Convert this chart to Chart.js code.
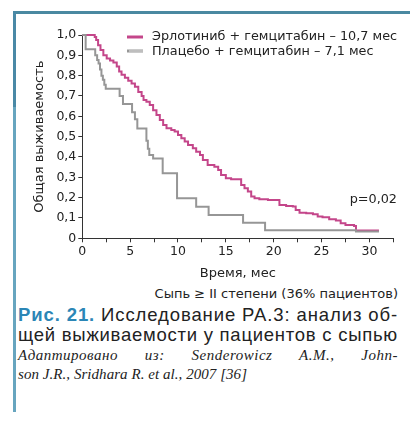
<!DOCTYPE html>
<html>
<head>
<meta charset="utf-8">
<script src="https://cdn.jsdelivr.net/npm/chart.js@4.4.1/dist/chart.umd.min.js"></script>
<style>
  body { margin: 0; background: #fff; }
  #page { position: relative; width: 410px; height: 430px; overflow: hidden; font-family: "DejaVu Sans", sans-serif; color: #222; }
  #chart { position: absolute; left: 0; top: 0; }
  .edge-top { position: absolute; left: 13px; top: 11px; width: 397px; height: 3px; background: #4a89a1; }
  .edge-left1 { position: absolute; left: 13px; top: 11px; width: 3px; height: 96px; background: #4a89a6; }
  .edge-left2 { position: absolute; left: 13px; top: 107px; width: 3px; height: 305px; background: #67a5bf; }
  #rash { position: absolute; right: 12px; top: 287px; font-size: 13px; line-height: 1; white-space: nowrap; }
  .fit { position: absolute; left: 18px; white-space: nowrap; line-height: 1; font-family: "Liberation Sans", Arial, sans-serif; font-size: 18.5px; }
  .cap1 { top: 306px; }
  .cap2 { top: 326px; }
  .fig { color: #2b86b6; font-weight: bold; }
  .src { position: absolute; left: 18px; width: 380px; white-space: nowrap; line-height: 1; font-family: "Liberation Serif", serif; font-style: italic; font-size: 15px; }
  .src1 { top: 348px; text-align: justify; text-align-last: justify; letter-spacing: 0.5px; }
  .src2 { top: 367px; letter-spacing: 0.05px; }
</style>
</head>
<body>
<div id="page">
  <canvas id="chart" width="410" height="285"></canvas>
  <div class="edge-top"></div>
  <div class="edge-left1"></div>
  <div class="edge-left2"></div>
  <div id="rash">Сыпь ≥ II степени (36% пациентов)</div>
  <div class="fit cap1"><span class="fig">Рис. 21.</span> Исследование РА.3: анализ об-</div>
  <div class="fit cap2">щей выживаемости у пациентов с сыпью</div>
  <div class="src src1">Адаптировано из: Senderowicz A.M., John-</div>
  <div class="src src2">son J.R., Sridhara R. et al., 2007 [36]</div>
</div>
<script>
// Kaplan-Meier curves (months, share surviving)
const erlotinibTime = [0, 1.3, 1.45, 1.65, 1.9, 2.2, 2.55, 2.9, 3.25, 3.6, 3.85, 4.1, 4.45, 4.8, 5.15, 5.5, 5.85, 6.2, 6.4, 6.7, 7.05, 7.4, 7.75, 8.1, 8.45, 8.8, 9.3, 9.65, 10.0, 10.35, 10.7, 11.05, 11.55, 11.9, 12.3, 12.6, 13.1, 13.8, 14.2, 14.5, 15.0, 15.55, 16.6, 16.95, 17.3, 17.65, 18.0, 18.5, 19.4, 20.6, 21.3, 22.0, 22.3, 22.7, 23.4, 24.1, 24.6, 25.1, 25.8, 26.5, 27.0, 27.5, 28.4, 28.6, 31.0];
const erlotinibSurv = [1.0, 0.99, 0.975, 0.95, 0.926, 0.9, 0.885, 0.875, 0.865, 0.845, 0.82, 0.805, 0.79, 0.775, 0.762, 0.745, 0.72, 0.7, 0.68, 0.672, 0.656, 0.63, 0.607, 0.582, 0.557, 0.541, 0.533, 0.525, 0.508, 0.492, 0.476, 0.459, 0.443, 0.426, 0.41, 0.385, 0.36, 0.352, 0.336, 0.311, 0.295, 0.29, 0.262, 0.246, 0.23, 0.205, 0.197, 0.192, 0.188, 0.164, 0.159, 0.156, 0.139, 0.126, 0.123, 0.118, 0.107, 0.103, 0.094, 0.087, 0.074, 0.066, 0.061, 0.038, 0.038];

const placeboTime = [0, 0.35, 1.35, 1.55, 1.7, 1.85, 2.0, 2.15, 2.3, 2.45, 3.9, 4.25, 5.2, 5.5, 5.75, 6.7, 6.85, 7.0, 7.4, 8.4, 9.9, 11.9, 13.2, 16.8, 19.1, 28.6, 31.0];
const placeboSurv = [1.0, 0.93, 0.9, 0.877, 0.86, 0.83, 0.8, 0.78, 0.755, 0.735, 0.7, 0.66, 0.62, 0.585, 0.54, 0.48, 0.44, 0.41, 0.393, 0.32, 0.197, 0.155, 0.115, 0.077, 0.04, 0.033, 0.033];

const seriesNames = ['Эрлотиниб + гемцитабин – 10,7 мес', 'Плацебо + гемцитабин – 7,1 мес'];
const seriesColors = ['#c4468a', '#969696'];
const pValue = 'p=0,02';

function toPoints(xs, ys) {
  return xs.map((x, i) => ({ x: x, y: ys[i] }));
}

// caption lines: stretch letter spacing so each line fills 380px like the print
document.querySelectorAll('.fit').forEach((el) => {
  const w = el.getBoundingClientRect().width;
  const n = el.textContent.length;
  el.style.letterSpacing = ((380 - w) / n).toFixed(3) + 'px';
});

// legend and p value drawn by hand to get the double-line swatch
const extras = {
  id: 'extras',
  afterDraw(chart) {
    const ctx = chart.ctx;
    ctx.save();
    ctx.font = '12.8px "DejaVu Sans"';
    ctx.fillStyle = '#222';
    ctx.textBaseline = 'middle';
    ctx.textAlign = 'left';

    ctx.strokeStyle = seriesColors[0];
    ctx.lineWidth = 3;
    ctx.beginPath(); ctx.moveTo(127, 37); ctx.lineTo(143, 37); ctx.stroke();
    ctx.fillText(seriesNames[0], 152, 37);

    ctx.strokeStyle = seriesColors[1];
    ctx.lineWidth = 3;
    ctx.beginPath(); ctx.moveTo(127, 51); ctx.lineTo(143, 51); ctx.stroke();
    ctx.strokeStyle = '#e6e6e6';
    ctx.lineWidth = 1;
    ctx.beginPath(); ctx.moveTo(129, 51); ctx.lineTo(143, 51); ctx.stroke();
    ctx.fillText(seriesNames[1], 152, 52);

    ctx.textAlign = 'right';
    ctx.fillText(pValue, 397, 200);
    ctx.restore();
  }
};

new Chart(document.getElementById('chart'), {
  type: 'line',
  data: {
    datasets: [{
      label: seriesNames[0],
      data: toPoints(erlotinibTime, erlotinibSurv),
      borderColor: seriesColors[0],
      borderWidth: 2,
      stepped: 'before',
      pointRadius: 0,
      fill: false,
      order: 2
    }, {
      label: seriesNames[1],
      data: toPoints(placeboTime, placeboSurv),
      borderColor: seriesColors[1],
      borderWidth: 2,
      stepped: 'before',
      pointRadius: 0,
      fill: false,
      order: 1
    }]
  },
  options: {
    responsive: false,
    animation: false,
    clip: false,
    layout: { padding: { left: 22, top: 35, right: 16.7, bottom: 0 } },
    plugins: { legend: { display: false }, tooltip: { enabled: false } },
    scales: {
      x: {
        type: 'linear',
        min: 0,
        max: 32.5,
        afterFit: (s) => { s.height = 46.7; },
        border: { color: '#333', width: 1 },
        grid: { drawOnChartArea: false, drawTicks: true, tickLength: 4, color: '#333' },
        ticks: {
          stepSize: 2.5,
          autoSkip: false,
          maxRotation: 0,
          padding: 2,
          color: '#222',
          font: { family: 'DejaVu Sans', size: 12.5 },
          callback: (v) => (v % 5 === 0 ? String(v) : '')
        },
        title: {
          display: true,
          text: 'Время, мес',
          color: '#222',
          font: { family: 'DejaVu Sans', size: 13 },
          padding: { top: 0, bottom: 4 }
        }
      },
      y: {
        min: 0,
        max: 1,
        afterFit: (s) => { s.width = 60.3; },
        border: { color: '#333', width: 1 },
        grid: { drawOnChartArea: false, drawTicks: true, tickLength: 4, color: '#333' },
        ticks: {
          stepSize: 0.1,
          padding: 2,
          color: '#222',
          font: { family: 'DejaVu Sans', size: 12.5 },
          callback: (v) => (v === 0 ? '0' : v.toFixed(1).replace('.', ','))
        },
        title: {
          display: true,
          text: 'Общая выживаемость',
          color: '#222',
          font: { family: 'DejaVu Sans', size: 13 },
          padding: { top: 10, bottom: 0 }
        }
      }
    }
  },
  plugins: [extras]
});
</script>
</body>
</html>
